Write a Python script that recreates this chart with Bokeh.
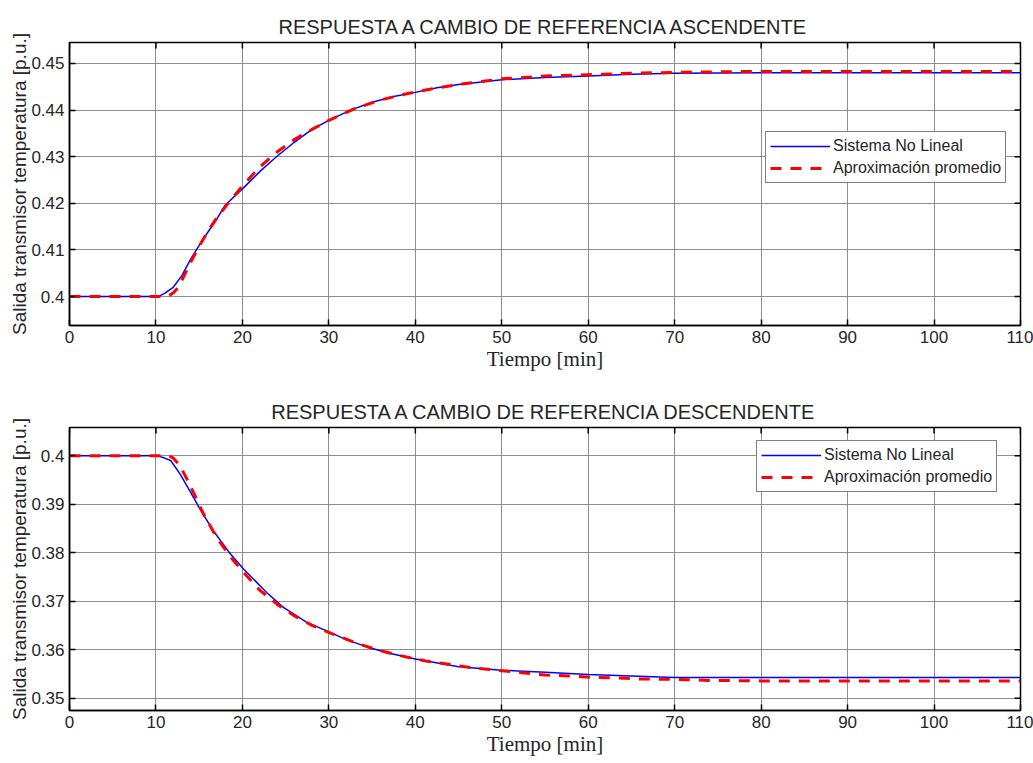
import math
from bokeh.plotting import figure
from bokeh.layouts import column
from bokeh.models import Range1d, FixedTicker, NumeralTickFormatter, Legend, LegendItem
from bokeh.embed import file_html
from bokeh.resources import INLINE

# --- Step up: nonlinear system response (time in min, output in p.u.)
t_up_nl = [0, 10, 10.5, 11, 12, 13, 14, 15, 16, 17, 18, 20, 22, 24, 26, 28, 30,
           32.5, 35, 37.5, 40, 42.5, 45, 50, 55, 60, 65, 70, 80, 90, 100, 110]
y_up_nl = [0.4, 0.4, 0.4002, 0.4007, 0.402, 0.4045, 0.408, 0.411, 0.4138, 0.4165,
           0.4196, 0.4231, 0.4268, 0.4301, 0.4331, 0.4358, 0.4378, 0.4400, 0.4417,
           0.4429, 0.4438, 0.4448, 0.4455, 0.4465, 0.4470, 0.4473, 0.4477, 0.4479,
           0.4480, 0.4480, 0.4480, 0.4480]

# --- Step up: averaged approximation
t_up_ap = [0, 11, 11.5, 12, 12.5, 13, 14, 15, 16, 17, 18, 19, 20, 22, 24, 26, 28,
           30, 33, 36, 39, 42, 45, 50, 55, 60, 65, 70, 80, 90, 100, 110]
y_up_ap = [0.4, 0.4, 0.4002, 0.4008, 0.4018, 0.4035, 0.4073, 0.4108, 0.4140,
           0.4168, 0.4192, 0.4215, 0.4237, 0.4278, 0.4310, 0.4337, 0.4358, 0.4378,
           0.4403, 0.4422, 0.4435, 0.4446, 0.4455, 0.4467, 0.4473, 0.4476, 0.4479,
           0.4481, 0.4483, 0.4483, 0.4483, 0.4483]

# --- Step down: nonlinear system response
t_dn_nl = [0, 10, 10.5, 11, 11.7, 12.8, 13.9, 15.1, 16.6, 18.5, 20.1, 22.8, 24.7,
           27.4, 30, 32, 34.4, 37, 40, 45, 50, 55, 60, 65, 70, 80, 90, 100, 110]
y_dn_nl = [0.4, 0.4, 0.3998, 0.3995, 0.399, 0.3962, 0.3928, 0.389, 0.3846, 0.38,
           0.3767, 0.3718, 0.3688, 0.3657, 0.3637, 0.3621, 0.3606, 0.3593, 0.3581,
           0.3565, 0.3558, 0.3554, 0.3549, 0.3546, 0.3543, 0.3543, 0.3543, 0.3543,
           0.3543]

# --- Step down: averaged approximation
t_dn_ap = [0, 11.5, 12, 12.5, 13, 13.6, 14.5, 15.5, 17, 18.5, 20, 22, 24, 26, 28,
           30.4, 33, 35.6, 38, 41.2, 44.3, 47, 50, 52.3, 55, 58.2, 60.8, 63.5, 66,
           70, 74, 80, 90, 100, 110]
y_dn_ap = [0.4, 0.4, 0.3995, 0.3985, 0.3972, 0.3951, 0.3918, 0.388, 0.3832,
           0.3794, 0.3762, 0.3723, 0.3694, 0.3670, 0.3651, 0.3633, 0.3615, 0.36,
           0.3589, 0.3577, 0.3569, 0.3562, 0.3557, 0.3553, 0.3548, 0.3546, 0.3543,
           0.3542, 0.354, 0.3539, 0.3537, 0.3536, 0.3536, 0.3536, 0.3536]

x_ticks = [0, 10, 20, 30, 40, 50, 60, 70, 80, 90, 100, 110]
y_ticks_up = [0.40, 0.41, 0.42, 0.43, 0.44, 0.45]
y_ticks_dn = [0.35, 0.36, 0.37, 0.38, 0.39, 0.40]

series_names = ["Sistema No Lineal", "Aproximación promedio"]
titles = ["RESPUESTA A CAMBIO DE REFERENCIA ASCENDENTE",
          "RESPUESTA A CAMBIO DE REFERENCIA DESCENDENTE"]
x_label = "Tiempo [min]"
y_label = "Salida transmisor temperatura [p.u.]"

SANS = "Liberation Sans"
SERIF = "Liberation Serif"
TEXT = "#262626"
GRID = "#7a7a7a"


def style_axis(ax, ticks):
    ax.ticker = FixedTicker(ticks=ticks)
    ax.axis_line_color = "black"
    ax.axis_line_width = 1.5
    ax.major_tick_line_color = "black"
    ax.major_tick_line_width = 1.5
    ax.major_tick_in = 6
    ax.major_tick_out = 0
    ax.minor_tick_line_color = None
    ax.major_label_text_font = SANS
    ax.major_label_text_font_size = "17px"
    ax.major_label_text_color = TEXT
    ax.major_label_standoff = 5


def panel(title, y_lo, y_hi, y_ticks, t_nl, y_nl, t_ap, y_ap, h, top, bottom, leg_xy):
    p = figure(width=1033, height=h, x_range=Range1d(0, 110), y_range=Range1d(y_lo, y_hi),
               output_backend="svg", toolbar_location=None,
               min_border_left=69, min_border_right=13,
               min_border_top=top, min_border_bottom=bottom)
    p.background_fill_color = "white"
    p.border_fill_color = "white"
    p.outline_line_color = "black"
    p.outline_line_width = 1.5

    p.title.text = title
    p.title.align = "center"
    p.title.text_font = SANS
    p.title.text_font_size = "20px"
    p.title.text_font_style = "normal"
    p.title.text_color = TEXT

    xa = p.xaxis[0]
    ya = p.yaxis[0]
    style_axis(xa, x_ticks)
    style_axis(ya, y_ticks)
    ya.formatter = NumeralTickFormatter(format="0.[00]")
    xa.axis_label = x_label
    xa.axis_label_text_font = SERIF
    xa.axis_label_text_font_size = "21px"
    xa.axis_label_text_font_style = "normal"
    xa.axis_label_text_color = TEXT
    xa.axis_label_standoff = 1
    ya.axis_label = y_label
    ya.axis_label_text_font = SANS
    ya.axis_label_text_font_size = "19px"
    ya.axis_label_text_font_style = "normal"
    ya.axis_label_text_color = TEXT
    ya.axis_label_standoff = -2

    # inward ticks along the top and right edges of the box
    p.ray(x=x_ticks, y=[y_hi] * len(x_ticks), length=6, length_units="screen",
          angle=-math.pi / 2, line_color="black", line_width=1.5)
    p.ray(x=[110] * len(y_ticks), y=y_ticks, length=6, length_units="screen",
          angle=math.pi, line_color="black", line_width=1.5)

    p.xgrid.ticker = FixedTicker(ticks=x_ticks)
    p.ygrid.ticker = FixedTicker(ticks=y_ticks)
    for g in (p.xgrid, p.ygrid):
        g.grid_line_color = GRID
        g.grid_line_width = 1
        g.grid_line_alpha = 0.85

    r_nl = p.line(t_nl, y_nl, line_color="#0000ff", line_width=1.5)
    r_ap = p.line(t_ap, y_ap, line_color="#ff0000", line_width=3, line_dash="11 9")

    leg = Legend(items=[LegendItem(label=series_names[0], renderers=[r_nl]),
                        LegendItem(label=series_names[1], renderers=[r_ap])],
                 location=leg_xy)
    leg.border_line_color = "black"
    leg.border_line_width = 1
    leg.background_fill_color = "white"
    leg.background_fill_alpha = 1
    leg.label_text_font = SANS
    leg.label_text_font_size = "16px"
    leg.label_text_color = TEXT
    leg.glyph_width = 60
    leg.glyph_height = 20
    leg.label_height = 20
    leg.label_standoff = 3
    leg.spacing = 2
    leg.padding = 4
    leg.margin = 0
    p.add_layout(leg)
    return p


p1 = panel(titles[0], 0.3938, 0.4545, y_ticks_up, t_up_nl, y_up_nl, t_up_ap, y_up_ap,
           h=380, top=42, bottom=55, leg_xy=(696, 142))
p2 = panel(titles[1], 0.3475, 0.4058, y_ticks_dn, t_dn_nl, y_dn_nl, t_dn_ap, y_dn_ap,
           h=383, top=47, bottom=53, leg_xy=(687, 218))

layout = column(p1, p2, spacing=0)
open("out.html", "w").write(file_html(layout, INLINE))
